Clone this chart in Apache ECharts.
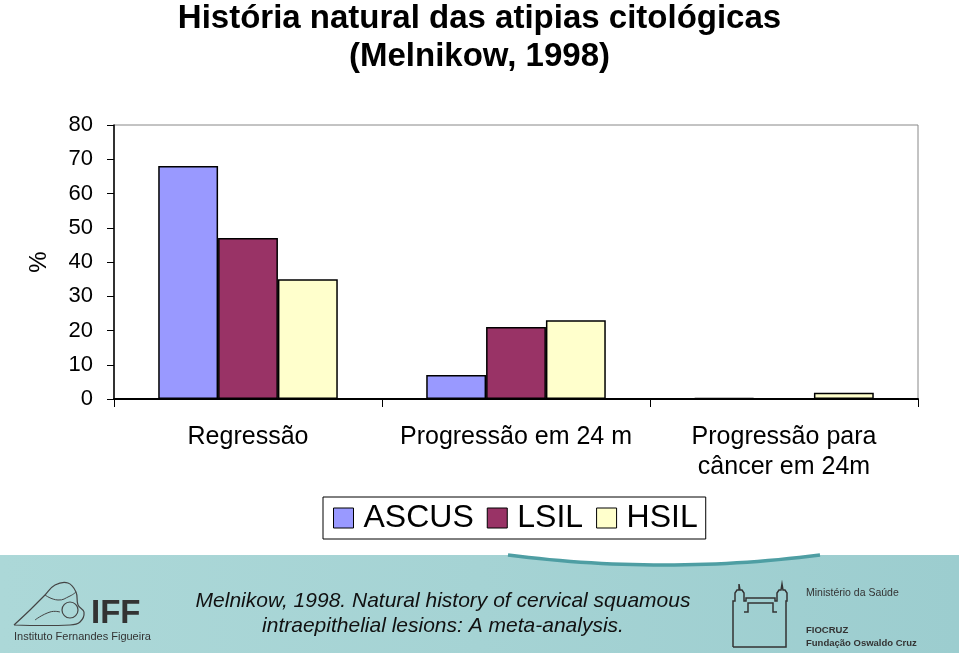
<!DOCTYPE html>
<html><head><meta charset="utf-8">
<script src="https://cdn.jsdelivr.net/npm/echarts@6/dist/echarts.min.js"></script>
<style>html,body{margin:0;padding:0;background:#fff}#c{width:959px;height:653px}</style>
</head><body><div id="c"></div>
<script>
const categories = ['Regressão', 'Progressão em 24 m', 'Progressão para\ncâncer em 24m'];
const seriesNames = ['ASCUS', 'LSIL', 'HSIL'];
const ascus = [68, 7, 0.25];
const lsil = [47, 21, 0.15];
const hsil = [35, 23, 1.8];
const colors = ['#9999FF', '#993366', '#FFFFCC'];
const yTicks = [0, 10, 20, 30, 40, 50, 60, 70, 80];

const chart = echarts.init(document.getElementById('c'), null, {renderer: 'canvas'});
const F = 'Liberation Sans, Arial, sans-serif';
const mk = (name, data, color) => ({
  name, type: 'bar', data, barGap: '0%', barCategoryGap: '33%',
  itemStyle: {color, borderColor: '#000', borderWidth: 1.5},
  emphasis: {disabled: true}
});
function arcPts(x0, x1, y0, depth, n) {
  const pts = [];
  for (let i = 0; i <= n; i++) {
    const t = i / n;
    pts.push([x0 + (x1 - x0) * t, y0 + depth * 4 * t * (1 - t)]);
  }
  return pts;
}
const arc = arcPts(508, 820, 555, 10, 30);
const building = [[733, 647], [733, 601], [735, 601], [735, 593], [737, 590], [739, 590], [739, 584], [740, 590], [742, 590], [744, 593], [744, 601], [746, 601],
  [746, 598], [775, 598], [775, 601], [777, 601], [777, 593], [779, 590], [781, 590], [782, 584], [783, 590], [785, 590], [787, 593], [787, 601], [786, 601], [786, 647], [733, 647]];
const buildingInner = [[744, 612], [748, 612], [748, 603], [773, 603], [773, 612], [777, 612]];
chart.setOption({
  animation: false,
  backgroundColor: '#fff',
  title: {
    text: 'História natural das atipias citológicas\n(Melnikow, 1998)',
    left: 'center', top: -5,
    textStyle: {fontFamily: F, fontSize: 33, fontWeight: 'bold', color: '#000', lineHeight: 38}
  },
  legend: {
    data: seriesNames, left: 323, top: 497,
    padding: [5, 8, 5, 10], itemGap: 13, itemWidth: 20, itemHeight: 20,
    borderColor: '#000', borderWidth: 1, icon: 'rect',
    itemStyle: {borderColor: '#000', borderWidth: 1},
    textStyle: {fontFamily: F, fontSize: 32, color: '#000', padding: [0, 0, 0, 5]}
  },
  grid: {left: 114, right: 41, top: 125, bottom: 254, show: true, borderColor: '#888', borderWidth: 1, containLabel: false},
  xAxis: {
    type: 'category', data: categories,
    axisLine: {lineStyle: {color: '#000', width: 2}},
    axisTick: {show: true, interval: 0, length: 8, lineStyle: {color: '#000', width: 1}},
    axisLabel: {fontFamily: F, fontSize: 25, color: '#000', margin: 23, lineHeight: 30, interval: 0}
  },
  yAxis: {
    type: 'value', min: yTicks[0], max: yTicks[yTicks.length - 1], interval: 10,
    name: '%', nameLocation: 'middle', nameGap: 63, nameRotate: 90,
    nameTextStyle: {fontFamily: F, fontSize: 24, color: '#000'},
    axisLine: {show: true, lineStyle: {color: '#000', width: 1.5}},
    axisTick: {show: true, length: 7, lineStyle: {color: '#000'}},
    splitLine: {show: false},
    axisLabel: {fontFamily: F, fontSize: 22, color: '#000', margin: 21}
  },
  series: [mk(seriesNames[0], ascus, colors[0]), mk(seriesNames[1], lsil, colors[1]), mk(seriesNames[2], hsil, colors[2])],
  graphic: [
    {type: 'rect', z: -1, shape: {x: 0, y: 555, width: 959, height: 98},
     style: {fill: new echarts.graphic.LinearGradient(0, 0, 1, 0, [{offset: 0, color: '#acd8d8'}, {offset: 0.5, color: '#a5d3d4'}, {offset: 1, color: '#9ccdcf'}])}},
    {type: 'polygon', z: 0, shape: {points: arc}, style: {fill: '#fff'}},
    {type: 'polyline', z: 0, shape: {points: arc}, style: {fill: null, stroke: '#4e9ea3', lineWidth: 3.5}},
    {type: 'text', x: 443, y: 589, style: {text: 'Melnikow, 1998. Natural history of cervical squamous\nintraepithelial lesions: A meta-analysis.', fontFamily: F, fontStyle: 'italic', fontSize: 21, lineHeight: 25, fill: '#111', align: 'center', verticalAlign: 'top'}},
    {type: 'text', x: 91, y: 597, style: {text: 'IFF', fontFamily: F, fontWeight: 'bold', fontSize: 33, fill: '#333'}},
    {type: 'text', x: 14, y: 631, style: {text: 'Instituto Fernandes Figueira', fontFamily: F, fontSize: 11, fill: '#333'}},
    {type: 'polyline', shape: {points: [[14, 625], [30, 610], [45, 595], [55, 585], [68, 583], [76, 592], [78, 605], [84, 612], [80, 622], [70, 625], [14, 625]], smooth: 0.4}, style: {fill: null, stroke: '#444', lineWidth: 1.2}},
    {type: 'polyline', shape: {points: [[45, 595], [58, 600], [70, 596], [76, 592]], smooth: 0.5}, style: {fill: null, stroke: '#444', lineWidth: 1}},
    {type: 'circle', shape: {cx: 70, cy: 610, r: 8}, style: {fill: null, stroke: '#444', lineWidth: 1.2}},
    {type: 'polyline', shape: {points: [[35, 620], [50, 612], [60, 612]], smooth: 0.5}, style: {fill: null, stroke: '#444', lineWidth: 1}},
    {type: 'polyline', shape: {points: building}, style: {fill: null, stroke: '#333', lineWidth: 1.5}},
    {type: 'polyline', shape: {points: buildingInner}, style: {fill: null, stroke: '#333', lineWidth: 1.5}},
    {type: 'text', x: 806, y: 588, style: {text: 'Ministério da Saúde', fontFamily: F, fontSize: 10.5, fill: '#333'}},
    {type: 'text', x: 806, y: 625, style: {text: 'FIOCRUZ', fontFamily: F, fontWeight: 'bold', fontSize: 9.5, fill: '#333'}},
    {type: 'text', x: 806, y: 638, style: {text: 'Fundação Oswaldo Cruz', fontFamily: F, fontWeight: 'bold', fontSize: 9.5, fill: '#333'}}
  ]
});
</script></body></html>
